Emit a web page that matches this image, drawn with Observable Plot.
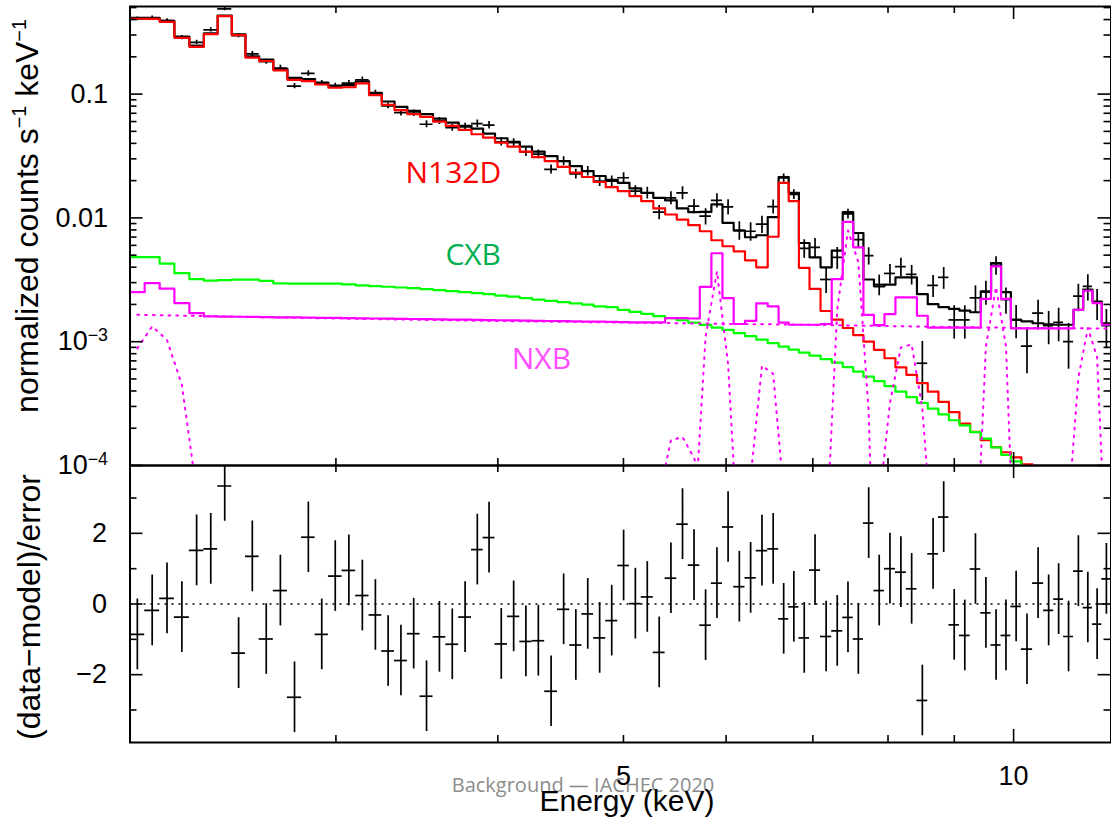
<!DOCTYPE html>
<html>
<head>
<meta charset="utf-8">
<script src="https://cdn.jsdelivr.net/npm/d3@7"></script>
<script src="https://cdn.jsdelivr.net/npm/@observablehq/plot@0.6"></script>
<style>
  html, body { margin: 0; padding: 0; background: #fff; }
  #chart { position: relative; width: 1111px; height: 819px; overflow: hidden; background: #fff; }
  #chart svg { position: absolute; left: 0; }
  .lbl { position: absolute; white-space: nowrap; line-height: 1; font-family: "Liberation Sans", Arial, sans-serif; color: #000; }
  .lbl sup { font-size: 0.62em; vertical-align: baseline; position: relative; top: -0.6em; }
</style>
</head>
<body>
<div id="chart"></div>
<script>
// ---- Energy bins (keV): 83 bins, 84 edges ----
const binEdges = [2.0808, 2.1358, 2.1934, 2.2515, 2.3123, 2.3726, 2.4314, 2.4932, 2.5546, 2.6175,
  2.6843, 2.7523, 2.8225, 2.8909, 2.9601, 3.0330, 3.1070, 3.1818, 3.2544, 3.3292,
  3.4058, 3.4835, 3.5648, 3.6468, 3.7313, 3.8171, 3.8966, 3.9798, 4.0692, 4.1591,
  4.2501, 4.3470, 4.4470, 4.5452, 4.6441, 4.7417, 4.8447, 4.9496, 5.0535, 5.1606,
  5.2722, 5.3838, 5.4968, 5.6102, 5.7262, 5.8455, 5.9618, 6.0817, 6.2050, 6.3305,
  6.4605, 6.5871, 6.7063, 6.8290, 6.9589, 7.0963, 7.2389, 7.3818, 7.5207, 7.6582,
  7.8026, 7.9499, 8.1064, 8.2650, 8.4221, 8.5852, 8.7500, 8.9147, 9.0826, 9.2571,
  9.4331, 9.6073, 9.7795, 9.9515, 10.139, 10.343, 10.547, 10.739, 10.928, 11.124,
  11.316, 11.504, 11.696, 11.889];

// ---- Observed spectrum (normalized counts s^-1 keV^-1) ----
const dataRate = [0.4053, 0.413, 0.3926, 0.2859, 0.2619, 0.3301, 0.4884, 0.2968, 0.2110, 0.1827,
  0.1625, 0.1161, 0.1469, 0.1228, 0.1168, 0.1228, 0.1306, 0.1019, 0.0804, 0.0709,
  0.0702, 0.0571, 0.0608, 0.0536, 0.0543, 0.0578, 0.0561, 0.0411, 0.0405, 0.0341,
  0.0327, 0.0247, 0.0288, 0.0227, 0.0239, 0.0198, 0.0198, 0.0211, 0.01646, 0.01595,
  0.01112, 0.01453, 0.01595, 0.01244, 0.01032, 0.01384, 0.01228, 0.00795, 0.00780, 0.00889,
  0.01233, 0.0210, 0.01547, 0.00568, 0.00579, 0.00318, 0.00480, 0.01077, 0.00667, 0.00495,
  0.00290, 0.00356, 0.00404, 0.00350, 0.00067, 0.00285, 0.00331, 0.0015, 0.0015, 0.00226,
  0.00252, 0.00414, 0.00219, 0.00151, 0.00092, 0.00170, 0.00135, 0.00143, 0.00100, 0.00233,
  0.00280, 0.00206, 0.00135];

// relative 1-sigma error of each data point
const dataRelErr = [0.035, 0.035, 0.035, 0.04, 0.04, 0.04, 0.035, 0.04, 0.045, 0.045,
  0.05, 0.05, 0.05, 0.05, 0.05, 0.05, 0.05, 0.055, 0.055, 0.06,
  0.06, 0.065, 0.065, 0.065, 0.07, 0.07, 0.07, 0.075, 0.075, 0.08,
  0.08, 0.085, 0.085, 0.09, 0.09, 0.095, 0.1, 0.1, 0.105, 0.11,
  0.13, 0.12, 0.12, 0.13, 0.15, 0.13, 0.14, 0.17, 0.17, 0.16,
  0.13, 0.075, 0.09, 0.17, 0.18, 0.23, 0.2, 0.09, 0.14, 0.16,
  0.19, 0.18, 0.17, 0.18, 0.5, 0.2, 0.2, 0.3, 0.3, 0.25,
  0.22, 0.17, 0.24, 0.3, 0.4, 0.27, 0.3, 0.3, 0.4, 0.25,
  0.24, 0.28, 0.35];

// ---- Model components (per bin) ----
const modelTotal = [0.413, 0.413, 0.390, 0.291, 0.246, 0.310, 0.431, 0.304, 0.202, 0.190,
  0.160, 0.135, 0.132, 0.124, 0.117, 0.118, 0.1265, 0.1024, 0.0871, 0.0789,
  0.0732, 0.0689, 0.0634, 0.0589, 0.0553, 0.0526, 0.0479, 0.0440, 0.0411, 0.0376,
  0.0343, 0.0316, 0.0288, 0.0262, 0.0239, 0.0218, 0.0203, 0.0192, 0.0173, 0.01595,
  0.01453, 0.01384, 0.01192, 0.01112, 0.01118, 0.01284, 0.00911, 0.00790, 0.00698, 0.00724,
  0.01013, 0.0214, 0.01595, 0.00627, 0.00480, 0.00399, 0.00544, 0.01112, 0.00755, 0.00318,
  0.00280, 0.00289, 0.00331, 0.00331, 0.00242, 0.00201, 0.00190, 0.00184, 0.00178, 0.00173,
  0.00255, 0.00432, 0.00251, 0.00150, 0.00146, 0.00141, 0.00138, 0.00137, 0.00137, 0.00181,
  0.00263, 0.00211, 0.00141];

const modelN132D = [0.406, 0.405, 0.383, 0.285, 0.241, 0.305, 0.426, 0.299, 0.197, 0.185,
  0.1555, 0.1305, 0.1275, 0.1195, 0.1125, 0.1136, 0.1221, 0.098, 0.0819, 0.0742,
  0.0689, 0.0655, 0.0600, 0.0553, 0.0514, 0.0474, 0.0445, 0.0405, 0.0376, 0.0343,
  0.0310, 0.0288, 0.0258, 0.0232, 0.0214, 0.0195, 0.0177, 0.01646, 0.0150, 0.01365,
  0.01192, 0.01065, 0.00970, 0.00873, 0.00780, 0.00660, 0.00590, 0.00537, 0.00454, 0.00399,
  0.00704, 0.0192, 0.01365, 0.00395, 0.00267, 0.00177, 0.00151, 0.00129, 0.00113, 0.00100,
  0.00086, 0.000735, 0.00062, 0.00054, 0.000463, 0.000395, 0.000327, 0.00027, 0.000218, 0.000187,
  0.00016, 0.000141, 0.000128, 0.0001165, 0.000102, 0.000085, 0.000073, 0.000063, 0.000054, 0.000046,
  0.00004, 0.000034, 0.000029];

const modelCXB = [4.83e-3, 4.83e-3, 4.27e-3, 3.58e-3, 3.20e-3, 3.11e-3, 3.145e-3, 3.17e-3, 3.17e-3, 3.10e-3,
  2.96e-3, 2.94e-3, 2.94e-3, 2.94e-3, 2.94e-3, 2.90e-3, 2.85e-3, 2.81e-3, 2.78e-3, 2.74e-3,
  2.71e-3, 2.66e-3, 2.61e-3, 2.56e-3, 2.51e-3, 2.47e-3, 2.42e-3, 2.36e-3, 2.31e-3, 2.25e-3,
  2.19e-3, 2.14e-3, 2.09e-3, 2.04e-3, 1.99e-3, 1.93e-3, 1.90e-3, 1.81e-3, 1.74e-3, 1.68e-3,
  1.61e-3, 1.55e-3, 1.49e-3, 1.425e-3, 1.365e-3, 1.30e-3, 1.245e-3, 1.175e-3, 1.11e-3, 1.04e-3,
  9.75e-4, 9.14e-4, 8.64e-4, 8.17e-4, 7.73e-4, 7.24e-4, 6.78e-4, 6.24e-4, 5.73e-4, 5.22e-4,
  4.81e-4, 4.38e-4, 3.95e-4, 3.57e-4, 3.21e-4, 2.88e-4, 2.59e-4, 2.32e-4, 2.11e-4, 1.86e-4,
  1.65e-4, 1.40e-4, 1.22e-4, 1.08e-4, 9.0e-5, 7.9e-5, 6.8e-5, 5.9e-5, 5.1e-5, 4.4e-5,
  3.75e-5, 3.2e-5, 2.8e-5];

const modelNXB = [2.51e-3, 2.97e-3, 2.68e-3, 2.05e-3, 1.70e-3, 1.60e-3, 1.595e-3, 1.59e-3, 1.585e-3, 1.58e-3,
  1.575e-3, 1.57e-3, 1.565e-3, 1.56e-3, 1.555e-3, 1.55e-3, 1.545e-3, 1.54e-3, 1.535e-3, 1.53e-3,
  1.525e-3, 1.52e-3, 1.515e-3, 1.51e-3, 1.505e-3, 1.50e-3, 1.495e-3, 1.49e-3, 1.485e-3, 1.48e-3,
  1.475e-3, 1.47e-3, 1.465e-3, 1.46e-3, 1.455e-3, 1.45e-3, 1.445e-3, 1.44e-3, 1.435e-3, 1.43e-3,
  1.43e-3, 1.553e-3, 1.553e-3, 1.54e-3, 2.77e-3, 5.18e-3, 2.25e-3, 1.39e-3, 1.475e-3, 2.04e-3,
  1.93e-3, 1.428e-3, 1.37e-3, 1.37e-3, 1.37e-3, 1.39e-3, 3.20e-3, 9.28e-3, 5.79e-3, 1.65e-3,
  1.36e-3, 1.667e-3, 2.28e-3, 2.28e-3, 1.62e-3, 1.30e-3, 1.30e-3, 1.30e-3, 1.30e-3, 1.30e-3,
  2.22e-3, 4.06e-3, 2.22e-3, 1.28e-3, 1.28e-3, 1.28e-3, 1.28e-3, 1.28e-3, 1.28e-3, 1.81e-3,
  2.58e-3, 2.05e-3, 1.37e-3];

// NXB sub-components (dotted): continuum (energy, value) and Gaussian lines (first bin, values at bin centres)
const nxbContEnergy = [2.108, 3, 4, 5, 6, 7, 8, 9, 10, 11.79];
const nxbContValue = [1.649e-3, 1.539e-3, 1.469e-3, 1.428e-3, 1.394e-3, 1.368e-3, 1.338e-3, 1.313e-3, 1.294e-3, 1.277e-3];
const nxbLines = [
  [1,  [8.84e-4, 1.33e-3, 1.03e-3, 4.49e-4, 6.1e-5]],
  [41, [5.7e-5, 1.6e-4, 1.7e-4, 1.15e-4, 6e-5]],
  [44, [3e-5, 1.1e-3, 3.7e-3, 6.6e-4, 1.5e-5]],
  [49, [8e-5, 6.4e-4, 5.5e-4, 6e-5]],
  [56, [2.4e-5, 1.83e-3, 7.9e-3, 4.4e-3, 2.7e-4, 3e-7]],
  [61, [5e-5, 3.2e-4, 9.0e-4, 9.5e-4, 2.9e-4, 2e-5]],
  [70, [1.2e-5, 9.2e-4, 2.76e-3, 9.2e-4, 6e-6]],
  [79, [4.6e-5, 5.1e-4, 1.29e-3, 7.5e-4, 1.4e-5]]
];

// ---- Residuals (data-model)/error ----
const residuals = [-0.86, -0.18, 0.16, -0.37, 1.52, 1.56, 3.34, -1.39, 1.35, -0.99,
  0.38, -2.64, 1.89, -0.86, 0.79, 0.95, 0.24, -0.31, -1.33, -1.6,
  -0.84, -2.61, -0.93, -1.14, -0.37, 1.54, 1.88, -1.13, -0.35, -1.06,
  -1.04, -2.47, -0.15, -1.16, -0.28, -0.96, -0.47, 1.09, 0.01, 0.20,
  -1.37, 0.73, 2.26, 1.10, -0.60, 0.59, 2.18, 0.49, 0.74, 1.51,
  1.56, -0.42, -0.08, -0.96, 0.96, -0.92, -0.76, -0.38, -0.99, 2.29,
  0.38, 1.00, 0.90, 0.43, -2.73, 1.42, 2.46, -0.59, -0.89, 0.99,
  -0.25, -1.16, -0.89, -0.07, -1.28, 0.59, -0.18, 0.14, -0.92, 0.93,
  -0.10, -0.57, 0.71];

// ---- Axis ticks / labels ----
const topTickValues = [0.1, 0.01, 1e-3, 1e-4];
const topTickLabels = ["0.1", "0.01", "10^−3", "10^−4"];
const botTickValues = [-2, 0, 2];
const xLabelValues = [5, 10];
const xMinorTicks = [3, 4, 5, 6, 7, 8, 9];
const xMajorTicks = [10];

// ---- Component labels ----
const compNames = ["N132D", "CXB", "NXB"];
const compColors = ["#ff0000", "#00b050", "#ff4dff"];
const compLabelE = [3.394, 3.644, 4.10];
const compLabelV = [0.0191, 4.14e-3, 5.97e-4];

// ================= build =================
const nb = dataRate.length;
const bins = d3.range(nb).map(i => ({
  lo: binEdges[i], hi: binEdges[i + 1], c: Math.sqrt(binEdges[i] * binEdges[i + 1]),
  data: dataRate[i], rel: dataRelErr[i], res: residuals[i]
}));
const centers = bins.map(b => b.c);
function steps(vals) {
  const pts = [];
  vals.forEach((v, i) => { pts.push({x: binEdges[i], y: v}, {x: binEdges[i + 1], y: v}); });
  return pts;
}
const contPts = nxbContEnergy.map((e, i) => ({x: e, y: nxbContValue[i], k: -1}));
const linePts = nxbLines.flatMap(([start, vals], k) => vals.map((v, j) => ({x: centers[start - 1 + j], y: v, k})));

const yMinorTop = [];
for (const dec of [1e-4, 1e-3, 1e-2, 1e-1]) for (let m = 2; m <= 9; m++) { const v = m * dec; if (v <= 0.51) yMinorTop.push(v); }
const yMinorBot = [-3, -1, 1, 3];

const W = 1111, ML = 129.5, MR = 0.5;
const FW = W - ML - MR;
const xDomain = [binEdges[0], binEdges[binEdges.length - 1]];
const baseStyle = {background: "transparent", overflow: "visible", fontFamily: "'Liberation Sans', Arial, sans-serif", fontSize: "27px", color: "black"};
const TK = 1.6, MINOR = 7, MAJOR = 13;

const topH = 466, topMT = 6, topMB = 1, FHt = topH - topMT - topMB;
const tickFmt = new Map(topTickValues.map((v, i) => [v, topTickLabels[i]]));

const topPlot = Plot.plot({
  width: W, height: topH, marginLeft: ML, marginRight: MR, marginTop: topMT, marginBottom: topMB,
  style: baseStyle,
  x: {type: "log", domain: xDomain, axis: null},
  y: {type: "log", domain: [1e-4, 0.51], label: null},
  marks: [
    // data crosses
    Plot.ruleX(bins, {x: "c", y1: d => d.data * (1 - d.rel), y2: d => d.data * (1 + d.rel), stroke: "black", strokeWidth: 1.7, clip: true}),
    Plot.ruleY(bins, {y: "data", x1: "lo", x2: "hi", stroke: "black", strokeWidth: 1.7, clip: true}),
    // model histograms
    Plot.line(steps(modelTotal), {x: "x", y: "y", stroke: "black", strokeWidth: 2.2, clip: true}),
    Plot.line(steps(modelN132D), {x: "x", y: "y", stroke: "#ff0000", strokeWidth: 2.2, clip: true}),
    Plot.line(steps(modelCXB), {x: "x", y: "y", stroke: "#00ff00", strokeWidth: 2.2, clip: true}),
    Plot.line(steps(modelNXB), {x: "x", y: "y", stroke: "#ff00ff", strokeWidth: 2.2, clip: true}),
    // NXB sub-components (dotted)
    Plot.line(contPts, {x: "x", y: "y", stroke: "#ff00ff", strokeWidth: 2, strokeDasharray: "1.8 6", clip: true}),
    Plot.line(linePts, {x: "x", y: "y", z: "k", stroke: "#ff00ff", strokeWidth: 2, strokeDasharray: "1.8 6", clip: true}),
    // frame + inward ticks
    Plot.frame({stroke: "black", strokeWidth: 2}),
    Plot.tickY(yMinorTop, {y: d => d, insetRight: FW - MINOR, strokeWidth: TK}),
    Plot.tickY(yMinorTop, {y: d => d, insetLeft: FW - MINOR, strokeWidth: TK}),
    Plot.tickY(topTickValues, {y: d => d, insetRight: FW - MAJOR, strokeWidth: TK}),
    Plot.tickY(topTickValues, {y: d => d, insetLeft: FW - MAJOR, strokeWidth: TK}),
    Plot.tickX(xMinorTicks, {x: d => d, insetTop: FHt - MINOR, strokeWidth: TK}),
    Plot.tickX(xMinorTicks, {x: d => d, insetBottom: FHt - MINOR, strokeWidth: TK}),
    Plot.tickX(xMajorTicks, {x: d => d, insetTop: FHt - MAJOR, strokeWidth: TK}),
    Plot.tickX(xMajorTicks, {x: d => d, insetBottom: FHt - MAJOR, strokeWidth: TK}),
    Plot.axisY(topTickValues, {anchor: "left", tickSize: 0, tickPadding: 22, tickFormat: d => tickFmt.get(d), label: null, fontSize: 27}),
    // component labels
    Plot.text(compNames, {x: (d, i) => compLabelE[i], y: (d, i) => compLabelV[i], text: d => d, fill: (d, i) => compColors[i],
      fontSize: 30, fontFamily: "'Open Sans', sans-serif", textAnchor: "start", lineAnchor: "bottom"})
  ]
});

const botH = 354, botMT = 0, botMB = 77, FHb = botH - botMT - botMB;
const botPlot = Plot.plot({
  width: W, height: botH, marginLeft: ML, marginRight: MR, marginTop: botMT, marginBottom: botMB,
  style: baseStyle,
  x: {type: "log", domain: xDomain, label: null},
  y: {domain: [-3.92, 3.92], label: null},
  marks: [
    Plot.ruleY([0], {stroke: "black", strokeWidth: 1.7, strokeDasharray: "2 5"}),
    Plot.ruleX(bins, {x: "c", y1: d => d.res - 1, y2: d => d.res + 1, stroke: "black", strokeWidth: 1.7, clip: true}),
    Plot.ruleY(bins, {y: "res", x1: "lo", x2: "hi", stroke: "black", strokeWidth: 1.7, clip: true}),
    Plot.frame({stroke: "black", strokeWidth: 2}),
    Plot.tickY(yMinorBot, {y: d => d, insetRight: FW - MINOR, strokeWidth: TK}),
    Plot.tickY(yMinorBot, {y: d => d, insetLeft: FW - MINOR, strokeWidth: TK}),
    Plot.tickY(botTickValues, {y: d => d, insetRight: FW - MAJOR, strokeWidth: TK}),
    Plot.tickY(botTickValues, {y: d => d, insetLeft: FW - MAJOR, strokeWidth: TK}),
    Plot.tickX(xMinorTicks, {x: d => d, insetTop: FHb - MINOR, strokeWidth: TK}),
    Plot.tickX(xMinorTicks, {x: d => d, insetBottom: FHb - MINOR, strokeWidth: TK}),
    Plot.tickX(xMajorTicks, {x: d => d, insetTop: FHb - MAJOR, strokeWidth: TK}),
    Plot.tickX(xMajorTicks, {x: d => d, insetBottom: FHb - MAJOR, strokeWidth: TK}),
    Plot.axisY(botTickValues, {anchor: "left", tickSize: 0, tickPadding: 23, label: null, fontSize: 27}),
    Plot.axisX(xLabelValues, {anchor: "bottom", tickSize: 0, tickPadding: 23, tickFormat: d => String(d), label: null, fontSize: 27})
  ]
});

// superscripts in "10^−3" style tick labels
function supify(svg) {
  svg.querySelectorAll("text").forEach(t => {
    const m = /^10\^(.+)$/.exec(t.textContent);
    if (m) {
      t.textContent = "10";
      const ts = document.createElementNS("http://www.w3.org/2000/svg", "tspan");
      ts.setAttribute("dy", "-0.5em");
      ts.setAttribute("font-size", "0.66em");
      ts.textContent = m[1];
      t.appendChild(ts);
    }
  });
}
supify(topPlot);

const chart = document.getElementById("chart");
topPlot.style.top = "0px";
botPlot.style.top = "465px";

function addLabel(html, css) {
  const d = document.createElement("div");
  d.className = "lbl";
  d.innerHTML = html;
  Object.assign(d.style, css);
  chart.appendChild(d);
  return d;
}
// caption (drawn beneath the x-axis title)
addLabel("Background — IACHEC 2020", {fontFamily: "'Open Sans', sans-serif", fontSize: "20px", color: "#8c8c8c",
  left: "583px", top: "775px", transform: "translateX(-50%)"});
chart.appendChild(botPlot);
chart.appendChild(topPlot);
addLabel("normalized counts s<sup>−1</sup> keV<sup>−1</sup>", {fontSize: "32px", left: "27px", top: "216px",
  transform: "translate(-50%,-50%) rotate(-90deg)"});
addLabel("(data−model)/error", {fontSize: "32px", left: "29px", top: "607px",
  transform: "translate(-50%,-50%) rotate(-90deg)"});
addLabel("Energy (keV)", {fontSize: "30px", left: "627px", top: "786px", transform: "translateX(-50%)"});
</script>
</body>
</html>
